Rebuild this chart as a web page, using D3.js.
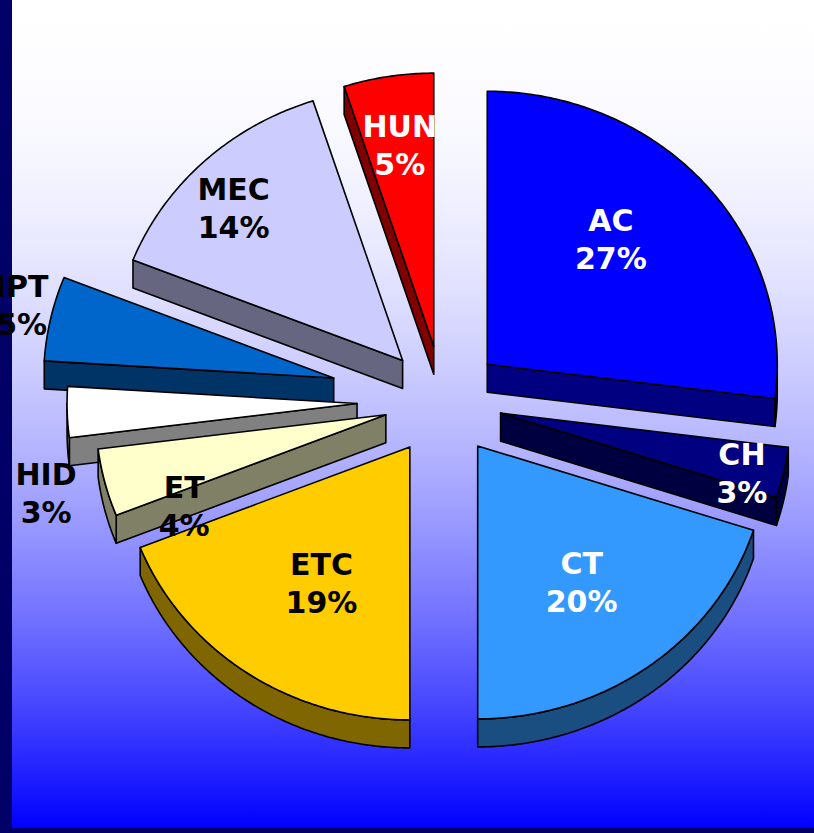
<!DOCTYPE html>
<html>
<head>
<meta charset="utf-8">
<script src="https://cdn.jsdelivr.net/npm/d3@7"></script>
<style>
html, body { margin: 0; padding: 0; overflow: hidden; background: #fff; }
</style>
</head>
<body>
<svg id="chart" width="814" height="833"></svg>
<script>
// pie data, clockwise from 12 o'clock
const categories = ["AC", "CH", "CT", "ETC", "ET", "HID", "IPT", "MEC", "HUN"];
const shares = [27, 3, 20, 19, 4, 3, 5, 14, 5];

// styling
const sliceColors = ["#0000ff", "#000080", "#3399ff", "#ffcc00", "#ffffcc", "#ffffff", "#0066cc", "#ccccff", "#ff0000"];
const labelColors = ["#fff", "#fff", "#fff", "#000", "#000", "#000", "#000", "#000", "#fff"];
const explode = [59, 59, 59, 59, 59, 86, 112, 59, 59];
// label angle tweak (deg) and distance as fraction of the radius
const labelAngle = [-6, 2, 0, -2.5, -11, -15, 1.6, -2.8, 0];
const labelDist = [0.63, 0.86, 0.61, 0.58, 0.77, 1.12, 1.11, 0.81, 0.75];

const W = 814, H = 833;
const cx = 443, cy = 401, rx = 290, ry = 273, depth = 28;

const svg = d3.select("#chart");

// background: white -> blue, quadratic fade
const grad = svg.append("defs").append("linearGradient")
    .attr("id", "bg")
    .attr("x1", 0).attr("y1", 0).attr("x2", 0).attr("y2", 1);
grad.selectAll("stop")
    .data(d3.range(0, 1.0001, 0.05))
    .enter().append("stop")
    .attr("offset", d => d)
    .attr("stop-color", d => {
        var v = Math.round(255 * (1 - d * d));
        return d3.rgb(v, v, 255).formatHex();
    });

svg.append("rect").attr("width", W).attr("height", 828).attr("fill", "url(#bg)");
svg.append("rect").attr("x", 0).attr("y", 0).attr("width", 12).attr("height", H).attr("fill", "#000066");
svg.append("rect").attr("x", 0).attr("y", 828).attr("width", W).attr("height", 5).attr("fill", "#000066");

const pie = d3.pie().sort(null).value(d => d);
const arcs = pie(shares);
const line = d3.line();

function shade(c) {
    var r = d3.rgb(c);
    return d3.rgb(r.r * 0.5, r.g * 0.5, r.b * 0.5).formatHex();
}

const slices = arcs.map(function (a, i) {
    var m = (a.startAngle + a.endAngle) / 2;
    var ox = cx + explode[i] * Math.sin(m);
    var oy = cy - explode[i] * (ry / rx) * Math.cos(m);
    return { i: i, a0: a.startAngle, a1: a.endAngle, m: m, ox: ox, oy: oy };
});

function rim(s, t) {
    return [s.ox + rx * Math.sin(t), s.oy - ry * Math.cos(t)];
}

function rimPts(s, t0, t1) {
    var n = Math.max(2, Math.ceil((t1 - t0) / 0.01));
    return d3.range(n + 1).map(j => rim(s, t0 + (t1 - t0) * j / n));
}

function down(p) { return [p[0], p[1] + depth]; }

const g = svg.append("g");

slices.slice().sort((a, b) => a.oy - b.oy).forEach(function (s) {
    var apex = [s.ox, s.oy];
    var walls = [];
    if (Math.sin(s.a0) < -1e-3) {
        var p = rim(s, s.a0);
        walls.push([apex, p, down(p), down(apex)]);
    }
    if (Math.sin(s.a1) > 1e-3) {
        var q = rim(s, s.a1);
        walls.push([apex, q, down(q), down(apex)]);
    }
    var lo = Math.max(s.a0, Math.PI / 2), hi = Math.min(s.a1, 3 * Math.PI / 2);
    if (hi > lo) {
        var pts = rimPts(s, lo, hi);
        walls.push(pts.concat(pts.slice().reverse().map(down)));
    }
    var sg = g.append("g");
    sg.selectAll("path.wall")
        .data(walls)
        .enter().append("path")
        .attr("class", "wall")
        .attr("d", d => line(d) + "Z")
        .attr("fill", shade(sliceColors[s.i]))
        .attr("stroke", "#000")
        .attr("stroke-width", 1.6)
        .attr("stroke-linejoin", "round");
    sg.append("path")
        .attr("d", line([apex].concat(rimPts(s, s.a0, s.a1))) + "Z")
        .attr("fill", sliceColors[s.i])
        .attr("stroke", "#000")
        .attr("stroke-width", 1.6)
        .attr("stroke-linejoin", "round");
});

// labels
const labels = svg.append("g")
    .attr("font-family", "'DejaVu Sans', Verdana, sans-serif")
    .attr("font-weight", "bold")
    .attr("font-size", 30)
    .attr("text-anchor", "middle");

slices.forEach(function (s) {
    var t = s.m + labelAngle[s.i] * Math.PI / 180;
    var f = labelDist[s.i];
    var x = s.ox + f * rx * Math.sin(t);
    var y = s.oy - f * ry * Math.cos(t);
    var txt = labels.append("text").attr("fill", labelColors[s.i]);
    txt.append("tspan").attr("x", x).attr("y", y - 7).text(categories[s.i]);
    txt.append("tspan").attr("x", x).attr("y", y + 31).text(shares[s.i] + "%");
});
</script>
</body>
</html>
